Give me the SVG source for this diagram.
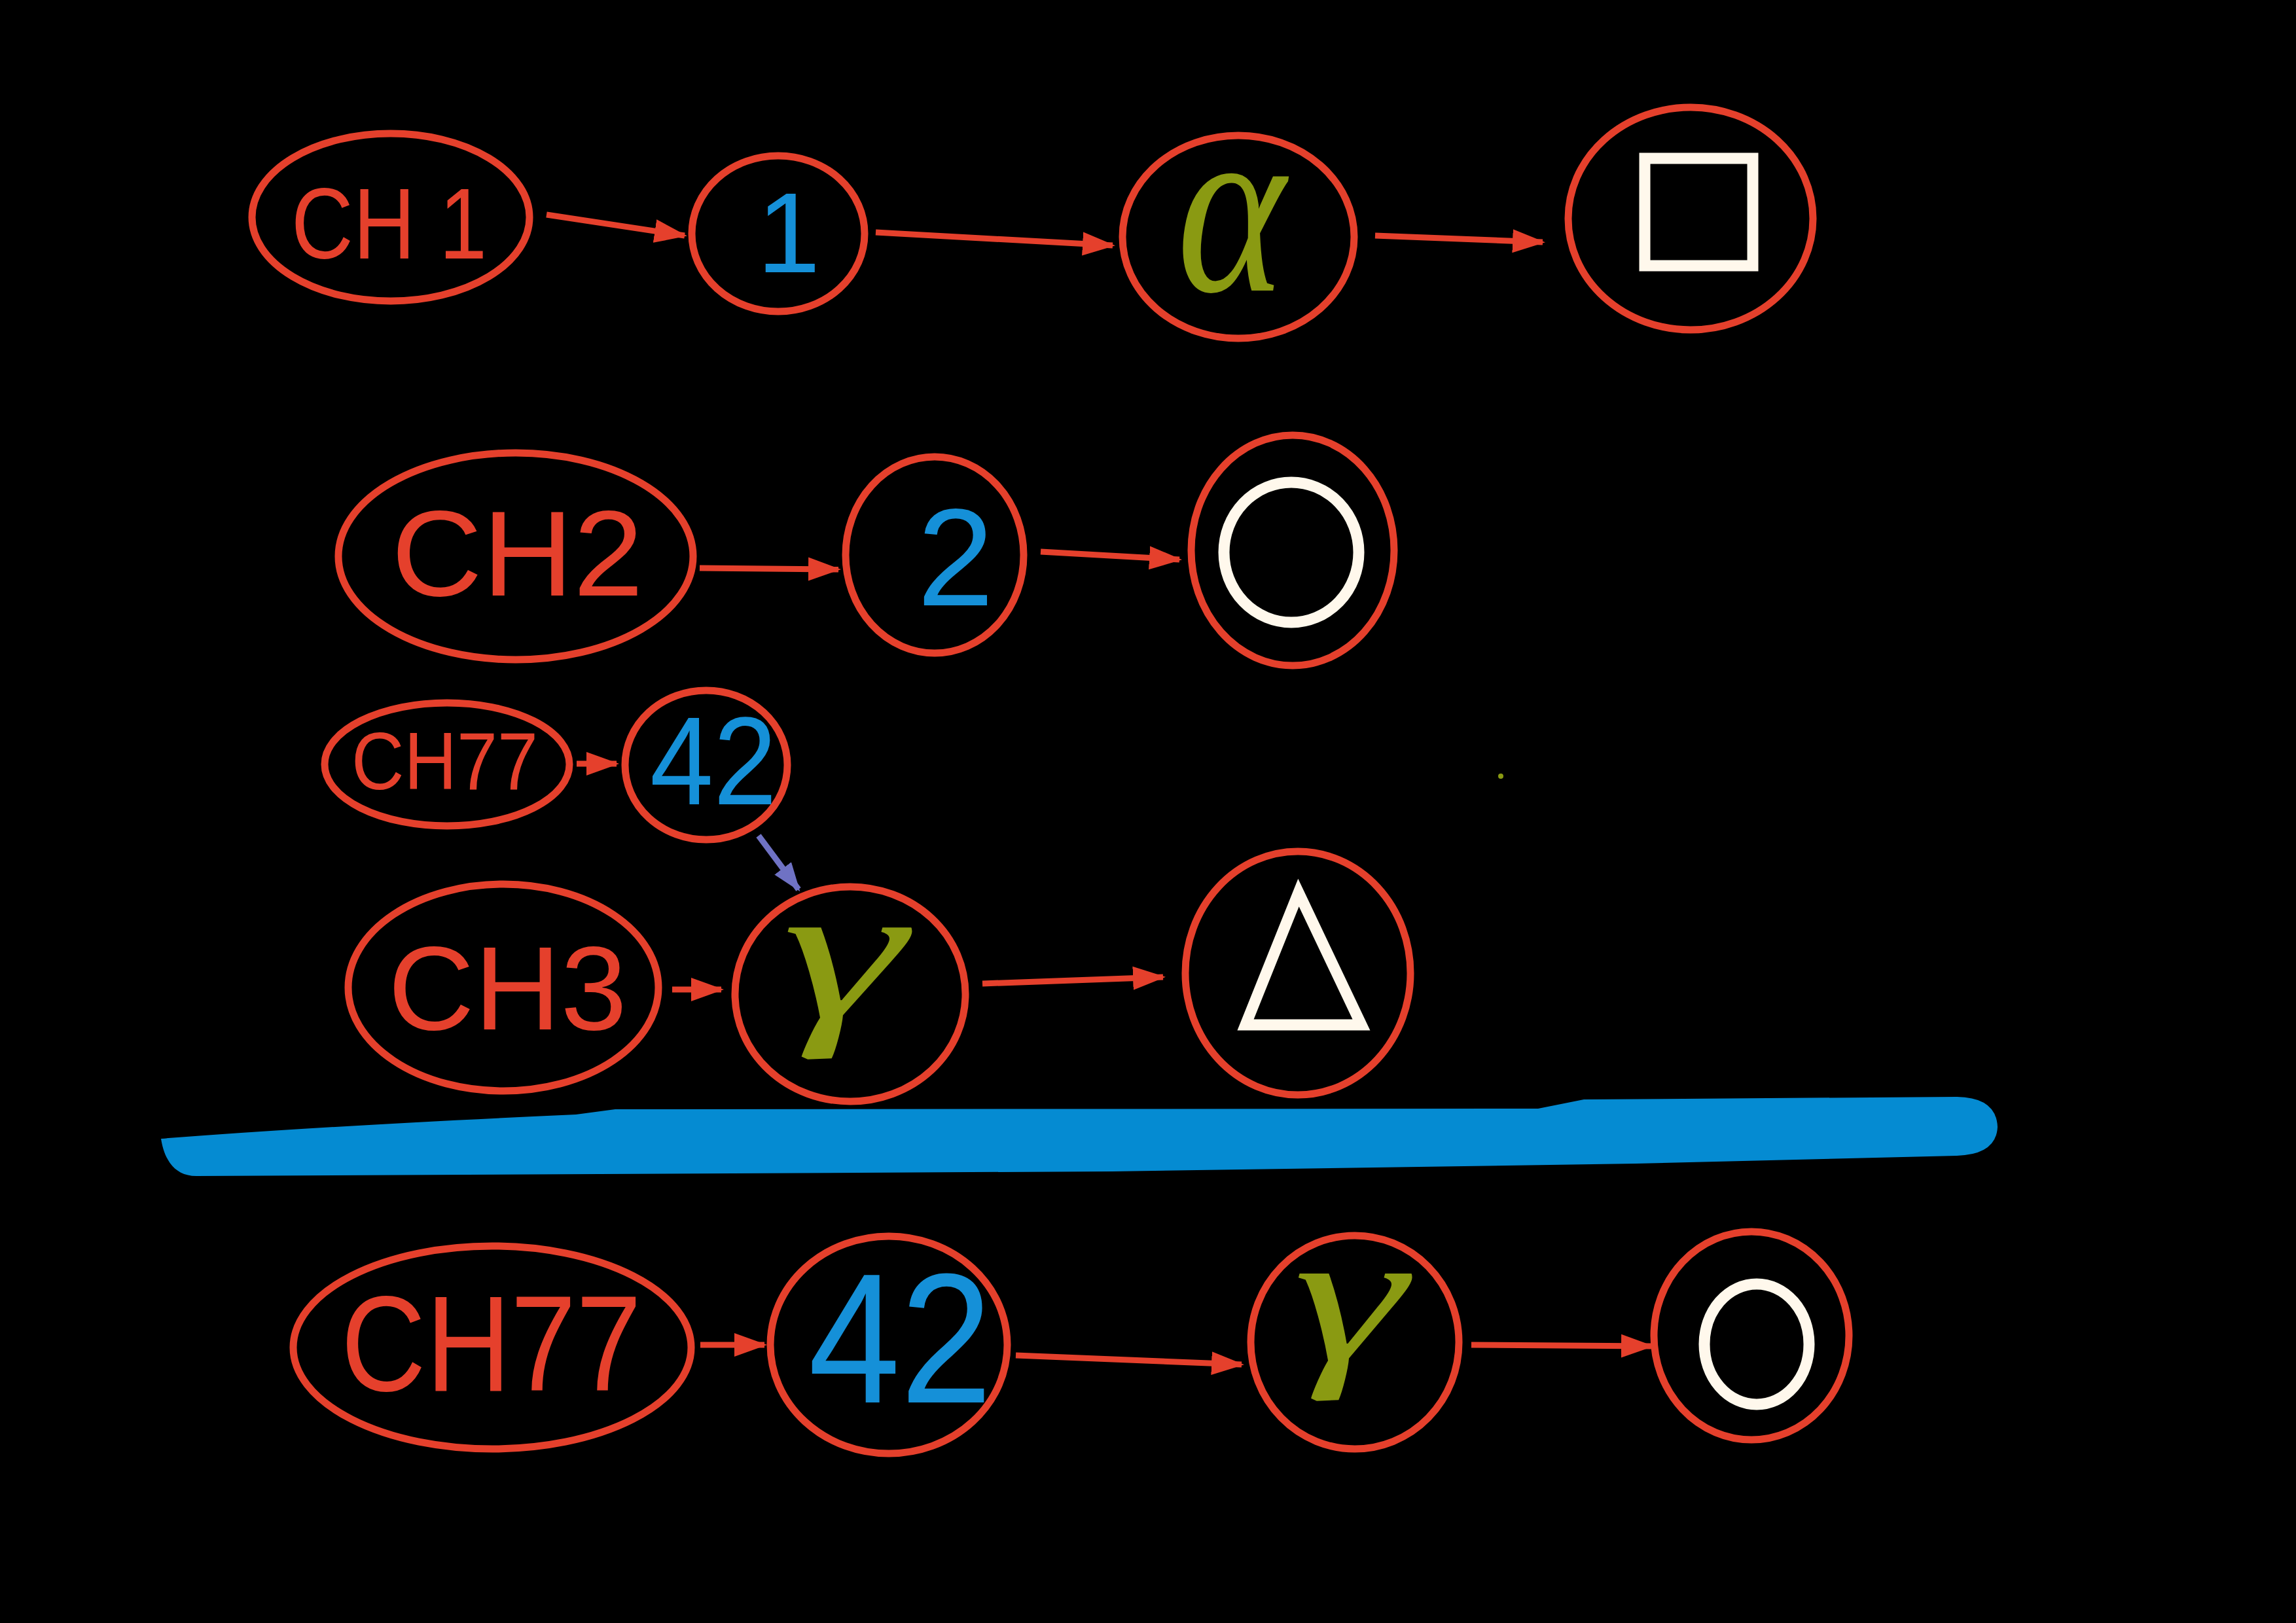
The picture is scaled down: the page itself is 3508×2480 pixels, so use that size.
<svg xmlns="http://www.w3.org/2000/svg" width="3508" height="2480" viewBox="0 0 3508 2480">
<defs>
<style>
.node{fill:none;stroke:#e5402c;stroke-width:11}
.red{fill:#e5402c;font-family:"Liberation Sans",sans-serif}
.blue{fill:#1590d8;font-family:"Liberation Sans",sans-serif}
.green{fill:#8a9a12;font-family:"Liberation Serif",serif;font-style:italic}
.wht{fill:none;stroke:#fff8ec;stroke-width:17}
.arr{fill:none;stroke:#e5402c;stroke-width:9;marker-end:url(#ah)}
.arrp{fill:none;stroke:#6f72c4;stroke-width:9;marker-end:url(#ahp)}
</style>
<marker id="ah" markerUnits="userSpaceOnUse" markerWidth="50" markerHeight="40" refX="46" refY="20" orient="auto"><path d="M0,2 L50,20 L0,38 Z" fill="#e5402c"/></marker>
<marker id="ahp" markerUnits="userSpaceOnUse" markerWidth="44" markerHeight="36" refX="40" refY="18" orient="auto"><path d="M0,2 L44,18 L0,34 Z" fill="#6f72c4"/></marker>
</defs>
<rect width="3508" height="2480" fill="#000"/>

<g id="connectors">
<line class="arr" x1="835" y1="328" x2="1046" y2="360"/>
<line class="arr" x1="1338" y1="355" x2="1700" y2="375"/>
<line class="arr" x1="2101" y1="360" x2="2357" y2="370"/>
<line class="arr" x1="1069" y1="868" x2="1281" y2="870"/>
<line class="arr" x1="1590" y1="843" x2="1802" y2="855"/>
<line class="arr" x1="881" y1="1167" x2="942" y2="1167"/>
<line class="arrp" x1="1159" y1="1277" x2="1220" y2="1359"/>
<line class="arr" x1="1027" y1="1512" x2="1102" y2="1512"/>
<line class="arr" x1="1501" y1="1503" x2="1777" y2="1493"/>
<line class="arr" x1="1070" y1="2055" x2="1168" y2="2055"/>
<line class="arr" x1="1552" y1="2071" x2="1897" y2="2085"/>
<line class="arr" x1="2248" y1="2055" x2="2523" y2="2057"/>
</g>

<g id="ch1"><ellipse class="node" cx="597" cy="332" rx="212" ry="128"/><text class="red" x="445" y="395" font-size="154" textLength="299" lengthAdjust="spacingAndGlyphs">CH 1</text></g>
<g id="n1"><ellipse class="node" cx="1189" cy="357" rx="132" ry="119"/><text class="blue" x="1205" y="416" font-size="174" text-anchor="middle">1</text></g>
<g id="alpha"><ellipse class="node" cx="1892" cy="362" rx="177" ry="155"/><text class="green" x="1798" y="444" font-size="380" textLength="166" lengthAdjust="spacingAndGlyphs">α</text></g>
<g id="square"><ellipse class="node" cx="2583" cy="334" rx="187" ry="170"/><rect class="wht" x="2513" y="242" width="165" height="164"/></g>

<g id="ch2"><ellipse class="node" cx="788" cy="850" rx="271" ry="158"/><text class="red" x="598" y="910" font-size="185" textLength="385" lengthAdjust="spacingAndGlyphs">CH2</text></g>
<g id="n2"><ellipse class="node" cx="1428" cy="848" rx="136" ry="150"/><text class="blue" x="1460" y="925" font-size="211" text-anchor="middle">2</text></g>
<g id="circle1"><ellipse class="node" cx="1975" cy="841" rx="155" ry="176" stroke-width="13"/><ellipse class="wht" cx="1973" cy="844" rx="103" ry="107"/></g>

<g id="ch77a"><ellipse class="node" cx="683" cy="1168" rx="187" ry="94"/><text class="red" x="537" y="1206" font-size="125" textLength="285" lengthAdjust="spacingAndGlyphs">CH77</text></g>
<g id="n42a"><ellipse class="node" cx="1079" cy="1169" rx="124" ry="114"/><text class="blue" x="993" y="1229" font-size="192" textLength="194" lengthAdjust="spacingAndGlyphs">42</text></g>

<g id="ch3"><ellipse class="node" cx="769" cy="1509" rx="237" ry="158"/><text class="red" x="593" y="1573" font-size="181" textLength="365" lengthAdjust="spacingAndGlyphs">CH3</text></g>
<g id="gamma1"><ellipse class="node" cx="1299" cy="1519" rx="176" ry="164"/><text class="green" x="1195" y="1555" font-size="300" textLength="188" lengthAdjust="spacingAndGlyphs">γ</text></g>
<g id="triangle"><ellipse class="node" cx="1983" cy="1487" rx="172" ry="186"/><polygon class="wht" points="1984,1364 2080,1566 1903,1566" stroke-linejoin="miter"/></g>

<g id="divider"><path d="M246,1740 C250,1765 262,1797 300,1797 L1700,1790 L2500,1778 L2990,1766 Q3050,1764 3052,1722 Q3050,1677 2990,1676 L2420,1680 L2350,1694 L940,1695 L880,1703 Q500,1720 246,1740 Z" fill="#058bd2"/></g>

<g id="ch77b"><ellipse class="node" cx="752" cy="2059" rx="304" ry="155"/><text class="red" x="521" y="2125" font-size="208" textLength="459" lengthAdjust="spacingAndGlyphs">CH77</text></g>
<g id="n42b"><ellipse class="node" cx="1358" cy="2055" rx="181" ry="166"/><text class="blue" x="1235" y="2143" font-size="283" textLength="281" lengthAdjust="spacingAndGlyphs">42</text></g>
<g id="gamma2"><ellipse class="node" cx="2070" cy="2051" rx="159" ry="163"/><text class="green" x="1976" y="2079" font-size="290" textLength="172" lengthAdjust="spacingAndGlyphs">γ</text></g>
<g id="circle2"><ellipse class="node" cx="2676" cy="2041" rx="149" ry="159"/><ellipse class="wht" cx="2684" cy="2054" rx="80" ry="92"/></g>

<circle cx="2293" cy="1186" r="4" fill="#8a9a12"/>
</svg>
